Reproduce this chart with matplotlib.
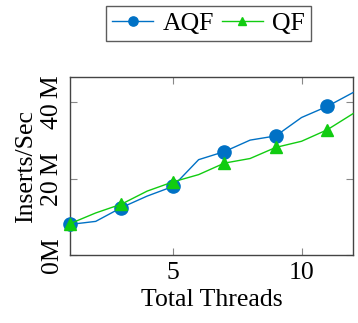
import matplotlib.pyplot as plt
from matplotlib.ticker import FuncFormatter

plt.rcParams['font.family'] = ['Liberation Serif', 'DejaVu Serif']

# data
threads = [1, 2, 3, 4, 5, 6, 7, 8, 9, 10, 11, 12]
aqf = [8.1, 8.9, 12.5, 15.5, 18.0, 25.0, 27.1, 30.1, 31.2, 36.0, 38.9, 42.5]
qf = [8.3, 11.1, 13.4, 16.8, 19.2, 21.1, 24.1, 25.3, 28.2, 29.8, 32.8, 37.0]
y_ticks = [0, 20, 40]
x_ticks = [5, 10]

blue = '#0071c5'
green = '#11cc11'
fs = 18.5

fig = plt.figure(figsize=(3.58, 3.23), dpi=100)
ax = fig.add_axes([0.1955, 0.209, 0.7905, 0.553])

ax.plot(threads, aqf, color=blue, lw=1.0, marker='o', markersize=9.5,
        markevery=2, label='AQF', clip_on=False, zorder=3)
ax.plot(threads, qf, color=green, lw=1.0, marker='^', markersize=9,
        markevery=2, label='QF', clip_on=False, zorder=4)

ax.set_xlim(1, 12)
ax.set_ylim(0, 46.6)
ax.set_xticks(x_ticks)
ax.set_yticks(y_ticks)
ax.yaxis.set_major_formatter(FuncFormatter(lambda v, p: '%d\u2009M' % v if v else '0M'))
for lab in ax.get_yticklabels():
    lab.set_rotation(90)
    lab.set_va('center')

ax.tick_params(direction='in', length=5, width=0.8, color='#888888',
               top=True, right=True, labelsize=fs, pad=5)
for s in ax.spines.values():
    s.set_color('#444444')
    s.set_linewidth(1.0)

ax.set_xlabel('Total Threads', fontsize=fs, labelpad=3)
ax.set_ylabel('Inserts/Sec', fontsize=fs, labelpad=3)

leg = fig.legend(loc='center', bbox_to_anchor=(0.582, 0.927), ncol=2,
                 fontsize=fs, frameon=True, fancybox=False, edgecolor='#333333',
                 handlelength=1.6, handletextpad=0.35, columnspacing=0.3,
                 borderpad=0.25, markerscale=0.7)
leg.get_frame().set_linewidth(1.0)

fig.savefig('out.png', dpi=100)
